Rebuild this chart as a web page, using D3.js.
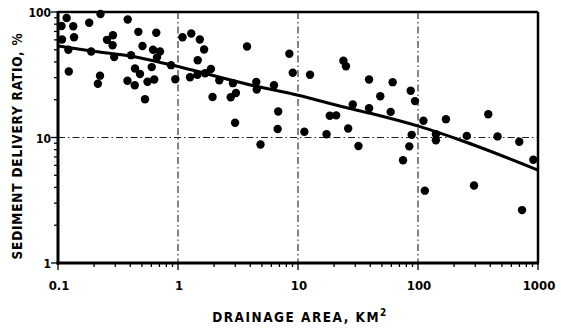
<!DOCTYPE html>
<html><head><meta charset="utf-8">
<script src="https://cdn.jsdelivr.net/npm/d3@7"></script>
<style>body{margin:0;background:#fff}svg{display:block}</style>
</head><body>
<svg id="c" width="561" height="329"></svg>
<script>
const drainageArea = [0.118,0.107,0.134,0.182,0.226,0.381,0.108,0.136,0.122,0.123,0.189,0.287,0.256,0.285,0.294,0.224,0.215,0.467,0.659,0.506,0.406,0.619,0.708,0.668,0.438,0.482,0.379,0.436,0.557,0.634,0.604,0.531,0.875,0.95,1.09,1.29,1.52,1.65,1.46,1.26,1.45,1.68,1.88,2.21,2.87,1.94,2.75,3.04,3.76,4.49,4.53,6.31,8.47,9.04,12.6,23.9,25.1,39.1,48.5,61.5,86.9,94.4,2.99,6.84,6.77,4.87,11.3,17.3,18.4,20.8,28.6,39.1,26.2,31.9,59.2,111,171,385,88.6,84.6,141,141,255,460,698,75,914,114,293,736];
const deliveryRatio = [89.6,77.3,76.9,82,96.4,87.1,60.4,62.9,50,33.6,48.4,65.3,60,54.4,43.8,31.1,26.8,69.5,68.3,53.6,45.3,50,48.4,43.5,35.5,32.1,28.3,26.1,27.8,29,36.4,20.2,37.7,29.1,62.9,67.4,60.4,50.3,41.3,30.2,31.6,32.5,35.1,28.6,27.1,21,20.9,22.6,53.1,27.7,24.1,26.1,46.5,32.8,31.6,40.9,37,29,21.3,27.6,23.6,19.5,13.1,16.1,11.7,8.8,11.1,10.6,14.9,15,18.3,17.1,11.8,8.56,16,13.6,14,15.3,10.5,8.5,10.6,9.5,10.3,10.2,9.26,6.58,6.65,3.77,4.15,2.64];
const curveArea = [0.1,0.19,0.41,0.88,4.5,10,24,40,104,224,1000];
const curveRatio = [53.6,48.9,44.4,37.8,25.6,21.7,17.5,15.6,12.2,9.55,5.5];
const xTickValues = [0.1,1,10,100,1000];
const xTickLabels = ["0.1","1","10","100","1000"];
const yTickValues = [1,10,100];
const yTickLabels = ["1","10","100"];
const xTitle = "DRAINAGE AREA, KM";
const yTitle = "SEDIMENT DELIVERY RATIO, %";

const svg = d3.select("#c");
const L=58, R=538, T=12, B=263;
const x = d3.scaleLog().domain([0.1,1000]).range([L,R]);
const y = d3.scaleLog().domain([1,100]).range([B,T]);
const font = "'DejaVu Sans Condensed','DejaVu Sans',sans-serif";

// grid
const grid = svg.append("g").attr("stroke","#222").attr("stroke-width",1.1).attr("stroke-dasharray","7,3,1.5,3");
[1,10,100].forEach(v=>grid.append("line").attr("x1",x(v)).attr("x2",x(v)).attr("y1",T).attr("y2",B));
grid.append("line").attr("x1",L).attr("x2",R).attr("y1",y(10)).attr("y2",y(10));

// minor ticks
const minorX=[], minorY=[];
[0.1,1,10,100].forEach(d=>{for(let k=2;k<=9;k++) minorX.push(d*k);});
[1,10].forEach(d=>{for(let k=2;k<=9;k++) minorY.push(d*k);});
const tk = svg.append("g").attr("stroke","#000").attr("stroke-width",1.3);
minorX.forEach(v=>tk.append("line").attr("x1",x(v)).attr("x2",x(v)).attr("y1",B).attr("y2",B+4));
xTickValues.forEach(v=>tk.append("line").attr("x1",x(v)).attr("x2",x(v)).attr("y1",B).attr("y2",B+7));
minorY.forEach(v=>tk.append("line").attr("y1",y(v)).attr("y2",y(v)).attr("x1",L-4).attr("x2",L));
yTickValues.forEach(v=>tk.append("line").attr("y1",y(v)).attr("y2",y(v)).attr("x1",L-7).attr("x2",L));

// frame
svg.append("line").attr("x1",L).attr("x2",R).attr("y1",T).attr("y2",T).attr("stroke","#000").attr("stroke-width",2.5);
svg.append("line").attr("x1",R).attr("x2",R).attr("y1",T).attr("y2",B).attr("stroke","#000").attr("stroke-width",2.5);
svg.append("line").attr("x1",L).attr("x2",L).attr("y1",T-1).attr("y2",B+1.5).attr("stroke","#000").attr("stroke-width",3);
svg.append("line").attr("x1",L-1.5).attr("x2",R+1).attr("y1",B).attr("y2",B).attr("stroke","#000").attr("stroke-width",3);

// curve
const line = d3.line().x((d,i)=>x(curveArea[i])).y((d,i)=>y(curveRatio[i])).curve(d3.curveMonotoneX);
svg.append("path").attr("d",line(curveArea)).attr("fill","none").attr("stroke","#000").attr("stroke-width",3);

// points
svg.append("g").selectAll("circle").data(drainageArea).join("circle")
  .attr("cx",(d)=>x(d)).attr("cy",(d,i)=>y(deliveryRatio[i])).attr("r",4.2).attr("fill","#000");

// tick labels
svg.append("g").selectAll("text").data(xTickValues).join("text")
  .attr("x",d=>x(d)+1).attr("y",290).attr("text-anchor","middle")
  .attr("font-family",font).attr("font-weight","bold").attr("font-size",13)
  .text((d,i)=>xTickLabels[i]);
svg.append("g").selectAll("text").data(yTickValues).join("text")
  .attr("x",51).attr("y",d=>y(d)+5).attr("text-anchor","end")
  .attr("font-family",font).attr("font-weight","bold").attr("font-size",12)
  .text((d,i)=>yTickLabels[i]);

// titles
const xt = svg.append("text").attr("x",300).attr("y",322).attr("text-anchor","middle")
  .attr("font-family",font).attr("font-weight","bold").attr("font-size",13.5).attr("letter-spacing",1.5);
xt.append("tspan").text(xTitle);
xt.append("tspan").attr("dy",-6).attr("font-size",10).text("2");
svg.append("text").attr("transform","translate(22,146) rotate(-90)").attr("text-anchor","middle")
  .attr("font-family",font).attr("font-weight","bold").attr("font-size",13.5).attr("letter-spacing",0.8)
  .text(yTitle);
</script>
</body></html>
